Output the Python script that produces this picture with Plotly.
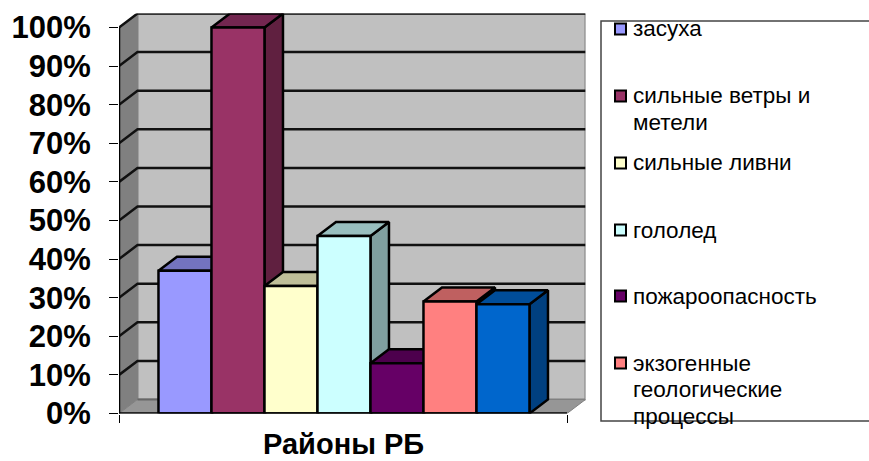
import plotly.graph_objects as go

# Data
categories = ["засуха", "сильные ветры и<br>метели", "сильные ливни", "гололед",
              "пожароопасность", "экзогенные<br>геологические<br>процессы", ""]
values = [37, 100, 33, 46, 13, 29, 28.3]
front_colors = ["#9999FF", "#993366", "#FFFFCC", "#CCFFFF", "#660066", "#FF8080", "#0066CC"]
top_colors = ["#7373BF", "#732650", "#BFBF99", "#99BFBF", "#4D004D", "#BF6060", "#004D99"]
side_colors = ["#606090", "#602040", "#A0A080", "#80A0A0", "#400040", "#A05050", "#004080"]
y_ticks = [0, 10, 20, 30, 40, 50, 60, 70, 80, 90, 100]
y_labels = ["0%", "10%", "20%", "30%", "40%", "50%", "60%", "70%", "80%", "90%", "100%"]
axis_title = "Районы РБ"

# Chart geometry (pixels / axis units)
W, H = 869, 461
DX, DY = 0.349, 3.63          # depth of the pseudo-3D projection in axis units
X0, X1 = -0.745, 7.708        # front floor edge in axis units
FONT = "Liberation Sans, Arial, sans-serif"

fig = go.Figure()


def poly(xs, ys, fill, line="black", width=2.5):
    fig.add_trace(go.Scatter(
        x=xs + xs[:1], y=ys + ys[:1], mode="lines", fill="toself", fillcolor=fill,
        line=dict(color=line, width=width), hoverinfo="skip", showlegend=False,
        cliponaxis=False))


def path(xs, ys, color="black", width=2.5):
    fig.add_trace(go.Scatter(
        x=xs, y=ys, mode="lines", line=dict(color=color, width=width),
        hoverinfo="skip", showlegend=False, cliponaxis=False))


top = y_ticks[-1]
# Walls and floor
poly([X0 + DX, X1 + DX, X1 + DX, X0 + DX], [DY, DY, top + DY, top + DY], "#C0C0C0", "#808080", 2)
poly([X0, X0 + DX, X0 + DX, X0], [0, DY, top + DY, top], "#808080", "#808080", 1)
poly([X0, X1, X1 + DX, X0 + DX], [0, 0, DY, DY], "#969696", "#808080", 1)

# Gridlines: diagonal on the left wall, then along the back wall
for t in y_ticks[1:]:
    path([X0, X0 + DX, X1 + DX], [t, t + DY, t + DY], "#111111", 2.5)
path([X0 + DX, X0 + 0.745], [DY, DY], "#666666", 2)

# Columns, painted from left to right
for i, v in enumerate(values):
    l, r = i, i + 1
    poly([r, r + DX, r + DX, r], [0, DY, v + DY, v], side_colors[i])
    poly([l, r, r + DX, l + DX], [v, v, v + DY, v + DY], top_colors[i])
    poly([l, r, r, l], [0, 0, v, v], front_colors[i])

# Axis lines
path([X0, X0], [0, top], "black", 2.5)
path([X0, X1], [0, 0], "black", 2.5)


def px(x):
    return x / W


def py(y):
    return 1 - y / H


shapes = [
    dict(type="path", xref="paper", yref="paper",
         path=f"M{px(875)},{py(21)} L{px(601)},{py(21)} L{px(601)},{py(421)} L{px(875)},{py(421)}",
         line=dict(color="#444444", width=1.5)),
]
annotations = []
rows = [29, 96, 163, 230, 296, 363]
LINE_STEP = 26.5
for name, color, yc in zip(categories[:6], front_colors, rows):
    shapes.append(dict(type="rect", xref="paper", yref="paper",
                       x0=px(615), x1=px(626), y0=py(yc - 5.5), y1=py(yc + 5.5),
                       fillcolor=color, line=dict(color="black", width=2)))
    for n, part in enumerate(name.split("<br>")):
        annotations.append(dict(xref="paper", yref="paper", x=px(632), y=py(yc + n * LINE_STEP),
                                xanchor="left", yanchor="middle", align="left", showarrow=False,
                                text=part, borderpad=0,
                                font=dict(family=FONT, size=22.5, color="black")))

annotations.append(dict(xref="paper", yref="paper", x=px(343), y=py(444), xanchor="center",
                        yanchor="middle", showarrow=False, text=f"<b>{axis_title}</b>",
                        font=dict(family=FONT, size=29, color="black")))

fig.update_layout(
    width=W, height=H, autosize=False,
    margin=dict(l=0, r=0, t=0, b=0, autoexpand=False),
    paper_bgcolor="white", plot_bgcolor="white", showlegend=False,
    shapes=shapes, annotations=annotations,
    xaxis=dict(domain=[119 / W, 585.5 / W], range=[X0, X1 + DX], showgrid=False, zeroline=False,
               showline=False, tickmode="array", tickvals=[X0, X1], ticktext=["", ""],
               ticks="outside", ticklen=8, tickwidth=1, tickcolor="black", fixedrange=True),
    yaxis=dict(domain=[1 - 413.5 / H, 1 - 13.5 / H], range=[0, top + DY], showgrid=False,
               zeroline=False, showline=False, tickmode="array", tickvals=y_ticks,
               ticktext=y_labels, ticks="outside", ticklen=9, tickwidth=1, tickcolor="black",
               ticklabelstandoff=12, fixedrange=True,
               tickfont=dict(family=FONT, size=31, color="black", weight="bold")),
)

fig.write_html("out.html", config={"displayModeBar": False},
               post_script="document.body.style.margin='0';document.body.style.overflow='hidden';")
